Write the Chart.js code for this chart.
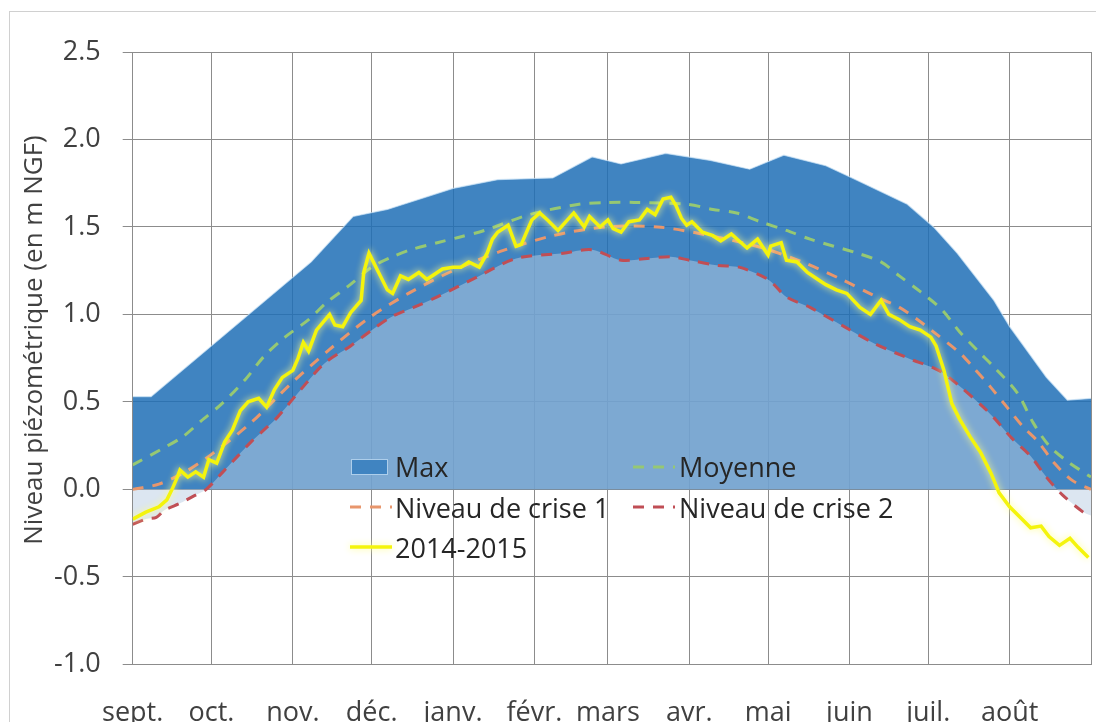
<!DOCTYPE html>
<html>
<head>
<meta charset="utf-8">
<script src="https://cdn.jsdelivr.net/npm/chart.js@4.4.1/dist/chart.umd.min.js"></script>
<style>
html,body{margin:0;padding:0;background:#ffffff;}
#wrap{position:relative;width:1096px;height:722px;}
</style>
</head>
<body>
<div id="wrap"><canvas id="c" width="1096" height="722"></canvas></div>
<script>
// ---------- data ----------
const monthLabels = ['sept.','oct.','nov.','déc.','janv.','févr.','mars','avr.','mai','juin','juil.','août',''];
const monthStartDays = [0,30,61,91,122,153,181,212,242,273,303,334,365];
const yAxisTitle = 'Niveau piézométrique (en m NGF)';
const seriesLabels = ['Max','Moyenne','Niveau de crise 1','Niveau de crise 2','2014-2015'];

const maxDays   = [0,7,30,68,84,97,122,139,160,175,186,203,220,235,248,264,274,295,305,314,328,334,348,356,365];
const maxValues = [0.53,0.53,0.82,1.30,1.56,1.60,1.72,1.77,1.78,1.90,1.86,1.92,1.88,1.83,1.91,1.85,1.78,1.63,1.50,1.35,1.08,0.93,0.64,0.51,0.52];

const meanDays   = [0,11,19,26,34,43,50,58,67,74,82,91,99,106,116,124,134,151,170,181,191,211,221,230,239,249,258,276,285,292,300,308,315,322,328,337,343,349,356,365];
const meanValues = [0.14,0.23,0.30,0.39,0.49,0.63,0.76,0.87,0.97,1.07,1.16,1.27,1.33,1.37,1.41,1.44,1.48,1.57,1.63,1.64,1.64,1.63,1.60,1.58,1.53,1.48,1.43,1.35,1.30,1.22,1.13,1.03,0.90,0.79,0.70,0.55,0.38,0.25,0.16,0.07];

const crise1Days   = [0,10,20,30,45,60,75,90,105,122,140,160,180,200,220,240,255,270,282,292,299,305,315,320,327,333,339,345,351,358,365];
const crise1Values = [0.0,0.03,0.10,0.20,0.38,0.60,0.80,0.98,1.12,1.25,1.36,1.45,1.50,1.50,1.45,1.38,1.30,1.20,1.11,1.04,0.97,0.90,0.78,0.70,0.58,0.47,0.36,0.27,0.15,0.05,0.0];

const crise2Days   = [0,5,9,12,18,23,28,35,40,45,50,55,64,73,83,91,99,107,116,132,146,164,175,186,196,205,212,223,231,242,249,258,271,283,297,307,315,324,328,335,342,348,354,362,365];
const crise2Values = [-0.20,-0.17,-0.16,-0.12,-0.08,-0.04,0.0,0.11,0.19,0.27,0.34,0.41,0.57,0.72,0.82,0.91,0.99,1.04,1.10,1.22,1.32,1.35,1.37,1.31,1.32,1.33,1.31,1.28,1.27,1.20,1.10,1.04,0.93,0.83,0.74,0.68,0.59,0.47,0.41,0.29,0.19,0.07,-0.03,-0.13,-0.15];

const obsDays   = [0,5,10,13,15,17,18,21,24,27,29,32,35,38,41,44,48,51,54,57,61,63,65,67,70,75,77,80,83,87,88,90,93,97,99,102,105,109,112,118,122,125,128,132,135,137,139,143,146,148,152,155,158,162,165,168,172,174,178,181,183,186,189,193,196,199,202,205,207,209,211,213,217,221,224,228,231,234,238,242,243,247,249,253,257,261,264,268,272,277,281,285,288,292,296,300,304,306,309,312,315,319,323,327,330,334,338,342,346,349,353,357,360,364];
const obsValues = [-0.17,-0.13,-0.10,-0.06,0.00,0.07,0.11,0.07,0.10,0.07,0.17,0.15,0.27,0.34,0.45,0.50,0.52,0.47,0.57,0.64,0.68,0.75,0.84,0.79,0.91,1.00,0.94,0.93,1.01,1.08,1.24,1.35,1.26,1.14,1.12,1.22,1.20,1.24,1.20,1.26,1.27,1.27,1.30,1.27,1.35,1.43,1.47,1.51,1.39,1.40,1.54,1.58,1.54,1.48,1.53,1.58,1.50,1.56,1.50,1.54,1.49,1.47,1.53,1.54,1.60,1.57,1.66,1.67,1.62,1.55,1.51,1.53,1.47,1.45,1.42,1.46,1.42,1.38,1.43,1.34,1.39,1.41,1.31,1.30,1.24,1.20,1.17,1.14,1.12,1.04,1.00,1.08,1.00,0.97,0.93,0.91,0.87,0.82,0.68,0.49,0.40,0.30,0.21,0.09,-0.02,-0.10,-0.16,-0.22,-0.21,-0.27,-0.32,-0.28,-0.33,-0.39];

// ---------- styles ----------
const FONT = "'Open Sans'";
const TEXT = '#404040';
const GRID = '#8c8c8c';
const MAX_FILL = 'rgba(30,110,182,0.85)';
const MAX_SOLID = 'rgb(64,132,193)';
const MIN_FILL = 'rgba(185,205,228,0.5)';
const C_MEAN = 'rgb(150,200,115)';
const C_CR1 = 'rgb(232,150,108)';
const C_CR2 = 'rgb(192,78,85)';
const C_OBS = '#f4f40c';

const toXY = (d, v) => d.map((x, i) => ({x: x, y: v[i]}));

const framePlugin = {
  id: 'frame',
  beforeDraw(chart) {
    const c = chart.ctx;
    c.save();
    c.fillStyle = '#ffffff';
    c.fillRect(0, 0, chart.width, chart.height);
    c.strokeStyle = '#d0d0d0';
    c.lineWidth = 1;
    c.strokeRect(9.5, 11.5, 3000, 3000);
    c.restore();
  },
  afterDraw(chart) {
    const c = chart.ctx;
    c.save();
    c.fillStyle = TEXT;
    c.font = "26px " + FONT;
    c.textAlign = 'center';
    c.textBaseline = 'alphabetic';
    c.translate(42, 340);
    c.rotate(-Math.PI / 2);
    c.fillText(yAxisTitle, 0, 0);
    c.restore();
  }
};

const glowPlugin = {
  id: 'glow',
  beforeDatasetDraw(chart, args) {
    if (chart.data.datasets[args.index].glow) {
      const c = chart.ctx;
      c.save();
      c.shadowColor = 'rgba(255,255,140,0.95)';
      c.shadowBlur = 7;
    }
  },
  afterDatasetDraw(chart, args) {
    if (chart.data.datasets[args.index].glow) chart.ctx.restore();
  }
};

const legendPlugin = {
  id: 'customLegend',
  afterDatasetsDraw(chart) {
    const c = chart.ctx;
    const ds = chart.data.datasets;
    const slots = [
      {i: 0, mx: 351, my: 467, tx: 395, ty: 477},
      {i: 1, mx: 633, my: 467, tx: 679, ty: 477},
      {i: 2, mx: 350, my: 507, tx: 395, ty: 518},
      {i: 3, mx: 633, my: 507, tx: 679, ty: 518},
      {i: 4, mx: 350, my: 547, tx: 395, ty: 558}
    ];
    c.save();
    slots.forEach(s => {
      const d = ds[s.i];
      if (s.i === 0) {
        c.fillStyle = MAX_SOLID;
        c.fillRect(s.mx, s.my - 8, 37, 16);
        c.strokeStyle = 'rgba(200,225,245,0.8)';
        c.lineWidth = 1;
        c.strokeRect(s.mx + 0.5, s.my - 7.5, 36, 15);
      } else {
        c.save();
        c.strokeStyle = d.borderColor;
        c.lineWidth = d.borderWidth;
        c.setLineDash(d.borderDash || []);
        if (d.glow) { c.shadowColor = 'rgba(255,255,140,0.95)'; c.shadowBlur = 7; }
        c.beginPath();
        c.moveTo(s.mx, s.my);
        c.lineTo(s.mx + 42, s.my);
        c.stroke();
        c.restore();
      }
      c.fillStyle = '#262626';
      c.font = "27px " + FONT;
      c.textAlign = 'left';
      c.textBaseline = 'alphabetic';
      c.fillText(d.label, s.tx, s.ty);
    });
    c.restore();
  }
};

new Chart(document.getElementById('c'), {
  type: 'line',
  data: {
    datasets: [
      {label: seriesLabels[0], data: toXY(maxDays, maxValues), fill: 'origin', backgroundColor: MAX_FILL,
       borderColor: 'rgba(200,225,245,0.7)', borderWidth: 1.2, pointRadius: 0, tension: 0, order: 5},
      {label: seriesLabels[1], data: toXY(meanDays, meanValues), fill: false, borderColor: C_MEAN,
       borderWidth: 3, borderDash: [11, 9], pointRadius: 0, tension: 0.3, order: 3},
      {label: seriesLabels[2], data: toXY(crise1Days, crise1Values), fill: false, borderColor: C_CR1,
       borderWidth: 3, borderDash: [11, 9], pointRadius: 0, tension: 0.3, order: 2},
      {label: seriesLabels[3], data: toXY(crise2Days, crise2Values), fill: 'origin', backgroundColor: MIN_FILL,
       borderColor: C_CR2, borderWidth: 3, borderDash: [11, 9], pointRadius: 0, tension: 0.3, order: 4},
      {label: seriesLabels[4], data: toXY(obsDays, obsValues), fill: false, borderColor: C_OBS,
       borderWidth: 3.5, pointRadius: 0, tension: 0, order: 1, glow: true}
    ]
  },
  options: {
    responsive: false,
    animation: false,
    devicePixelRatio: 1,
    layout: {padding: {left: 0, right: 5, top: 52, bottom: 0}},
    plugins: {
      legend: {display: false},
      tooltip: {enabled: false},
      filler: {drawTime: 'beforeDatasetsDraw'}
    },
    scales: {
      x: {
        type: 'linear', min: 0, max: 365,
        afterBuildTicks: (s) => { s.ticks = monthStartDays.map(v => ({value: v})); },
        afterFit: (s) => { s.height = 57.7; s.paddingLeft = 0; s.paddingRight = 0; },
        ticks: {autoSkip: false, maxRotation: 0, minRotation: 0, padding: 33, color: TEXT,
                font: {family: FONT, size: 27}, callback: (v, i) => monthLabels[i]},
        grid: {color: GRID, lineWidth: 1, drawTicks: false},
        border: {color: GRID, width: 1}
      },
      y: {
        min: -1, max: 2.5,
        afterFit: (s) => { s.width = 132.7; s.paddingTop = 0; s.paddingBottom = 0; },
        ticks: {stepSize: 0.5, padding: 22, color: TEXT, font: {family: FONT, size: 27},
                callback: (v) => v.toFixed(1)},
        grid: {color: GRID, lineWidth: 1, drawTicks: true, tickLength: 10},
        border: {color: GRID, width: 1}
      }
    }
  },
  plugins: [framePlugin, glowPlugin, legendPlugin]
});
</script>
</body>
</html>
